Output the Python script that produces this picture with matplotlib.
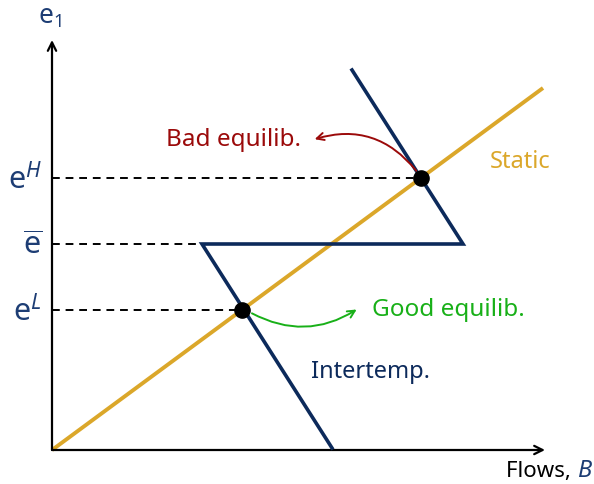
import matplotlib
matplotlib.use("Agg")
import matplotlib.pyplot as plt
from matplotlib.patches import FancyArrowPatch

plt.rcParams['font.family'] = ['Noto Sans', 'DejaVu Sans']
plt.rcParams['mathtext.fontset'] = 'custom'
plt.rcParams['mathtext.rm'] = 'Noto Sans'
plt.rcParams['mathtext.it'] = 'Noto Sans:italic'

# data (chart units)
static_x = [0.0, 9.82]
static_y = [0.0, 7.24]
inter_x = [6.0, 8.22, 3.0, 5.6]
inter_y = [7.6, 4.12, 4.12, 0.04]
levels = [5.44, 4.12, 2.8]           # e^H, e_bar, e^L
level_labels = [r"$\mathrm{e}^{H}$", r"$\overline{\mathrm{e}}$", r"$\mathrm{e}^{L}$"]
level_ends = [7.38, 3.0, 3.8]
eq_x = [7.38, 3.8]
eq_y = [5.44, 2.8]
x_axis_max = 9.86
y_axis_max = 8.2

NAVY = "#0c2a5b"
LABEL = "#1d3d74"
GOLD = "#dba72a"
RED = "#9b0a0a"
GREEN = "#18b018"

fig = plt.figure(figsize=(5.94, 4.84), dpi=100)
ax = fig.add_axes([0, 0, 1, 1])
ax.set_xlim(-1.04, 10.84)
ax.set_ylim(-0.68, 9.0)
ax.axis('off')

# axes arrows
ax.annotate("", xy=(x_axis_max, 0), xytext=(0, 0),
            arrowprops=dict(arrowstyle="->", lw=1.6, color="black", mutation_scale=15,
                            shrinkA=0, shrinkB=0))
ax.annotate("", xy=(0, y_axis_max), xytext=(0, 0),
            arrowprops=dict(arrowstyle="->", lw=1.6, color="black", mutation_scale=15,
                            shrinkA=0, shrinkB=0))

# dashed level lines
for lv, xe in zip(levels, level_ends):
    ax.plot([0, xe], [lv, lv], ls=(0, (4, 3)), color="black", lw=1.4, zorder=1)

ax.plot(static_x, static_y, color=GOLD, lw=2.8, solid_capstyle='butt', zorder=2)
ax.plot(inter_x, inter_y, color=NAVY, lw=2.6, solid_joinstyle='miter', zorder=3)
ax.scatter(eq_x, eq_y, s=120, color="black", zorder=5)

for lv, lab in zip(levels, level_labels):
    ax.text(-0.2, lv - 0.05, lab, ha='right', va='center', fontsize=22, color=LABEL)

ax.text(-0.04, 8.66, r"$\mathrm{e}_{1}$", ha='center', va='center', fontsize=19, color=LABEL)
btxt = ax.text(10.82, -0.42, r"$B$", ha='right', va='center', fontsize=17, color=LABEL)
ax.annotate("Flows, ", xy=(0, 0.5), xycoords=btxt, ha='right', va='center',
            fontsize=16, color="black")

ax.text(9.36, 5.76, "Static", ha='center', va='center', fontsize=17, color=GOLD)
ax.text(5.18, 1.56, "Intertemp.", ha='left', va='center', fontsize=17, color=NAVY)

ax.text(4.98, 6.2, "Bad equilib.", ha='right', va='center', fontsize=17.5, color=RED)
ax.add_patch(FancyArrowPatch((7.32, 5.54), (5.2, 6.2), connectionstyle="arc3,rad=0.35",
                             arrowstyle="->", mutation_scale=13, lw=1.4, color=RED, zorder=4))
ax.text(6.4, 2.8, "Good equilib.", ha='left', va='center', fontsize=17.5, color=GREEN)
ax.add_patch(FancyArrowPatch((3.95, 2.76), (6.14, 2.84), connectionstyle="arc3,rad=0.3",
                             arrowstyle="->", mutation_scale=13, lw=1.4, color=GREEN, zorder=4))

fig.savefig("out.png", dpi=100)
